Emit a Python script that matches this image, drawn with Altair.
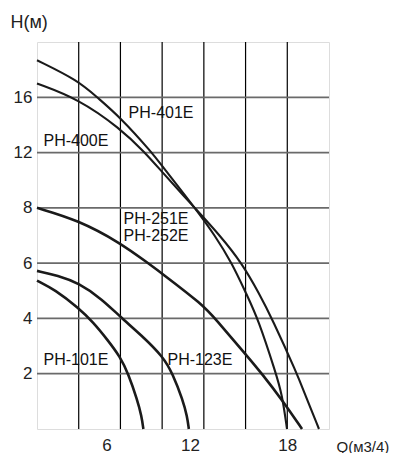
import altair as alt
import pandas as pd

# ---- curve data (Q in m3/h, H in m) ----
Q_101 = [0, 1.28, 2.98, 4.06, 5.03, 6.0, 6.56, 7.21, 7.52, 7.65]
H_101 = [5.37, 5.04, 4.38, 3.85, 3.25, 2.6, 2.0, 1.06, 0.47, 0]

Q_123 = [0, 1.5, 3.0, 4.67, 6.0, 7.5, 9.1, 9.75, 10.48, 10.8, 10.92]
H_123 = [5.72, 5.55, 5.28, 4.7, 4.05, 3.4, 2.6, 2.0, 1.06, 0.45, 0]

Q_251 = [0, 2.95, 5.97, 7.98, 9.06, 11.9, 12.80, 15.03, 16.18, 17.69, 19.06]
H_251 = [8.0, 7.56, 6.74, 6.0, 5.6, 4.5, 4.0, 2.69, 2.0, 1.01, 0]

Q_401 = [0, 2.95, 4.32, 5.97, 8.27, 8.99, 11.43, 12.80, 14.02, 15.03, 15.89, 17.19, 17.62, 17.98]
H_401 = [18.68, 17.22, 16.0, 14.57, 12.0, 11.04, 7.95, 7.0, 6.0, 4.91, 4.0, 2.0, 1.26, 0]

Q_400 = [0, 2.95, 5.97, 7.77, 8.99, 11.43, 13.16, 14.74, 15.97, 16.90, 18.70, 19.27, 20.28]
H_400 = [17.0, 15.9, 13.76, 12.0, 10.6, 7.95, 7.0, 6.0, 4.91, 4.0, 2.0, 1.26, 0]

# ---- labels ----
LABEL_TEXT = ["PH-401E", "PH-400E", "PH-251E", "PH-252E", "PH-101E", "PH-123E"]
LABEL_Q = [8.92, 2.80, 8.56, 8.56, 2.80, 11.72]
LABEL_H = [14.87, 12.87, 7.58, 6.98, 2.48, 2.48]

# ---- axes / grid ----
X_GRID = [3, 6, 9, 12, 15, 18]
X_TICK_POS = [5, 11, 18]
X_TICK_TEXT = ["6", "12", "18"]
Y_GRID = [2, 4, 6, 8, 12, 16]
Y_DOMAIN = [0, 2, 4, 6, 8, 12, 16, 20]

W, H = 292, 387
step = H / 7.0
Y_RANGE = [H - i * step for i in range(8)]

rows = []
for name, qs, hs, w in [
    ("PH-101E", Q_101, H_101, "thick"),
    ("PH-123E", Q_123, H_123, "thick"),
    ("PH-251E", Q_251, H_251, "thick"),
    ("PH-401E", Q_401, H_401, "thin"),
    ("PH-400E", Q_400, H_400, "thin"),
]:
    for i, (q, h) in enumerate(zip(qs, hs)):
        rows.append({"series": name, "q": q, "h": h, "i": i, "w": w})
curves = pd.DataFrame(rows)
labels = pd.DataFrame({"text": LABEL_TEXT, "q": LABEL_Q, "h": LABEL_H})

xscale = alt.Scale(domain=[0, 21], nice=False, zero=False)
yscale = alt.Scale(domain=Y_DOMAIN, range=Y_RANGE, nice=False, zero=False)

lab_expr = " : ".join(
    f"datum.value == {p} ? '{t}'" for p, t in zip(X_TICK_POS, X_TICK_TEXT)
) + " : ''"

xaxis = alt.Axis(
    values=X_TICK_POS, labelExpr=lab_expr, grid=False, ticks=False, domain=False,
    labelFontSize=17, labelColor="#222", labelPadding=8, labelFont="Liberation Sans",
    title="Q(м3/4)", titleFontSize=15, titleFontWeight="normal", titleColor="#222",
    titleFont="Liberation Sans", titleAlign="left", titleAnchor="start",
    titleX=299, titleY=10, titleBaseline="top",
)
yaxis = alt.Axis(
    values=Y_GRID, grid=False, ticks=False, domain=False,
    labelFontSize=17, labelColor="#222", labelPadding=5, labelFont="Liberation Sans",
    title="H(м)", titleFontSize=18, titleFontWeight="normal", titleColor="#222",
    titleFont="Liberation Sans", titleAngle=0, titleAlign="left",
    titleX=-27, titleY=-15, titleBaseline="alphabetic",
)

vgrid = alt.Chart(pd.DataFrame({"q": X_GRID})).mark_rule(
    color="#000", strokeWidth=1.2
).encode(x=alt.X("q:Q", scale=xscale, axis=xaxis))

hgrid = alt.Chart(pd.DataFrame({"h": Y_GRID})).mark_rule(
    color="#6a6a6a", strokeWidth=1.8
).encode(y=alt.Y("h:Q", scale=yscale, axis=yaxis))

lines = alt.Chart(curves).mark_line(interpolate="basis", color="#1a1a1a").encode(
    x=alt.X("q:Q", scale=xscale, axis=xaxis),
    y=alt.Y("h:Q", scale=yscale, axis=yaxis),
    detail="series:N",
    order="i:Q",
    strokeWidth=alt.StrokeWidth(
        "w:N", scale=alt.Scale(domain=["thick", "thin"], range=[2.6, 2.1]), legend=None
    ),
)

texts = alt.Chart(labels).mark_text(
    fontSize=16, color="#111", font="Liberation Sans", align="center", baseline="middle"
).encode(
    x=alt.X("q:Q", scale=xscale, axis=xaxis),
    y=alt.Y("h:Q", scale=yscale, axis=yaxis),
    text="text:N",
)

chart = alt.layer(vgrid, hgrid, lines, texts).properties(
    width=W, height=H,
    autosize=alt.AutoSizeParams(type="none"),
    padding={"left": 29, "top": 34, "right": 65, "bottom": 30},
).configure_view(stroke="#222", strokeWidth=1.6).configure(background="white")

chart.save("out.html", embed_options={"renderer": "svg", "actions": False})
